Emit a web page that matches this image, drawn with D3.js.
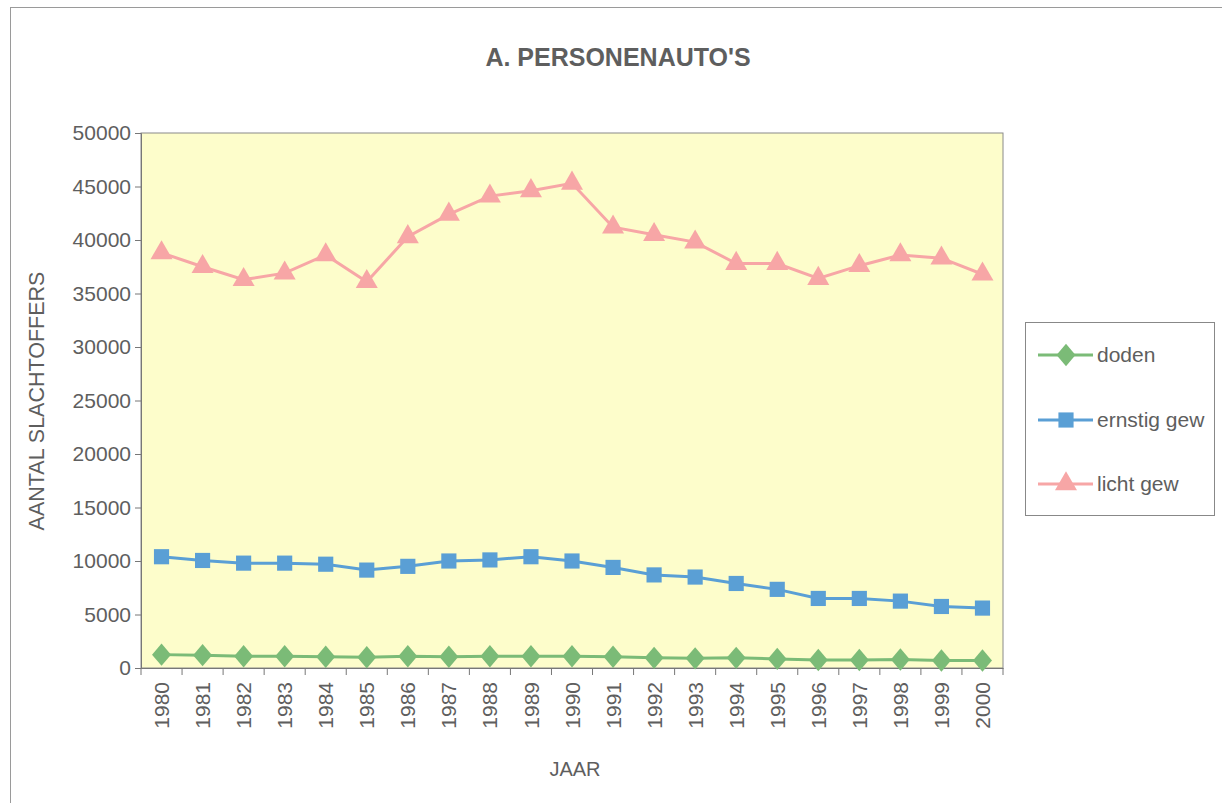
<!DOCTYPE html>
<html><head><meta charset="utf-8">
<script src="https://cdn.jsdelivr.net/npm/d3@7"></script>
<style>body{margin:0;background:#fff}svg{display:block}text{font-family:"Liberation Sans",Arial,sans-serif}</style>
</head><body>
<script>
const years = ["1980","1981","1982","1983","1984","1985","1986","1987","1988","1989","1990","1991","1992","1993","1994","1995","1996","1997","1998","1999","2000"];
const doden = [1250,1200,1100,1100,1050,1000,1100,1050,1100,1100,1100,1050,950,900,950,850,750,750,800,700,700];
const ernstig = [10400,10050,9800,9800,9700,9150,9500,10000,10100,10400,10000,9400,8700,8500,7900,7350,6500,6500,6250,5750,5600];
const licht = [38800,37500,36300,36900,38600,36100,40300,42400,44100,44600,45300,41200,40500,39800,37800,37800,36400,37600,38600,38300,36800];
const yTicks = [0,5000,10000,15000,20000,25000,30000,35000,40000,45000,50000];
const seriesNames = ["doden","ernstig gew","licht gew"];

const W=1222,H=803;
const svg=d3.select("body").append("svg").attr("width",W).attr("height",H);
svg.append("rect").attr("x",10.5).attr("y",7.5).attr("width",1240).attr("height",820).attr("fill","none").attr("stroke","#9a9a9a");

const L=141,R=1003,T=133,B=668;
const x=d3.scaleBand().domain(years).range([L,R]);
const y=d3.scaleLinear().domain([0,50000]).range([B,T]);
const txt="#5e5e5e";

svg.append("rect").attr("x",L).attr("y",T).attr("width",R-L).attr("height",B-T).attr("fill","#fdfdcb").attr("stroke","#8a8a8a");

const ya=svg.append("g").attr("transform",`translate(${L},0)`).call(d3.axisLeft(y).tickValues(yTicks).tickSize(6).tickFormat(d3.format("d")));
ya.select(".domain").attr("stroke","#777");
ya.selectAll(".tick line").attr("stroke","#777");
ya.selectAll("text").attr("font-size",21).attr("fill",txt).attr("x",-10);

const xa=svg.append("g").attr("transform",`translate(0,${B})`).call(d3.axisBottom(x).tickSize(0));
xa.select(".domain").attr("stroke","#777");
xa.selectAll("text").attr("font-size",21).attr("fill",txt)
  .attr("transform","rotate(-90)").attr("text-anchor","end").attr("x",-14).attr("y",0).attr("dy","0.36em");
// ticks between categories
svg.append("g").selectAll("line").data(d3.range(years.length+1)).join("line")
  .attr("x1",i=>L+i*x.step()).attr("x2",i=>L+i*x.step()).attr("y1",B).attr("y2",B+7).attr("stroke","#777");

const cx=d=>x(d)+x.bandwidth()/2;
const colors=["#7bbb77","#5a9fd5","#f7a6a6"];
const data=[doden,ernstig,licht];
const line=d3.line().x((d,i)=>cx(years[i])).y(d=>y(d));
const shapes=[d3.symbolDiamond,d3.symbolSquare,d3.symbolTriangle];
const sizes=[200,230,210];
data.forEach((s,k)=>{
  svg.append("path").datum(s).attr("d",line).attr("fill","none").attr("stroke",colors[k]).attr("stroke-width",3);
  svg.append("g").selectAll("path").data(s).join("path")
    .attr("transform",(d,i)=>`translate(${cx(years[i])},${y(d)})${k===0?" scale(1.25,0.85)":""}`)
    .attr("d",d3.symbol().type(shapes[k]).size(sizes[k])).attr("fill",colors[k]);
});

svg.append("text").attr("x",618).attr("y",66).attr("text-anchor","middle").attr("font-size",25).attr("font-weight","bold").attr("fill",txt).text("A. PERSONENAUTO'S");
svg.append("text").attr("x",575).attr("y",776).attr("text-anchor","middle").attr("font-size",20).attr("fill",txt).text("JAAR");
svg.append("text").attr("transform","translate(44,401) rotate(-90)").attr("text-anchor","middle").attr("font-size",21.5).attr("fill",txt).text("AANTAL SLACHTOFFERS");

// legend
const lg=svg.append("g");
lg.append("rect").attr("x",1025.5).attr("y",322.5).attr("width",189).attr("height",193).attr("fill","#fff").attr("stroke","#888");
const ly=[355,420,484];
seriesNames.forEach((n,k)=>{
  lg.append("line").attr("x1",1038).attr("x2",1093).attr("y1",ly[k]).attr("y2",ly[k]).attr("stroke",colors[k]).attr("stroke-width",3);
  lg.append("path").attr("transform",`translate(1066,${ly[k]})${k===0?" scale(1.25,0.85)":""}`).attr("d",d3.symbol().type(shapes[k]).size(sizes[k])).attr("fill",colors[k]);
  lg.append("text").attr("x",1097).attr("y",ly[k]).attr("dy","0.35em").attr("font-size",21).attr("fill",txt).text(n);
});
</script>
</body></html>
